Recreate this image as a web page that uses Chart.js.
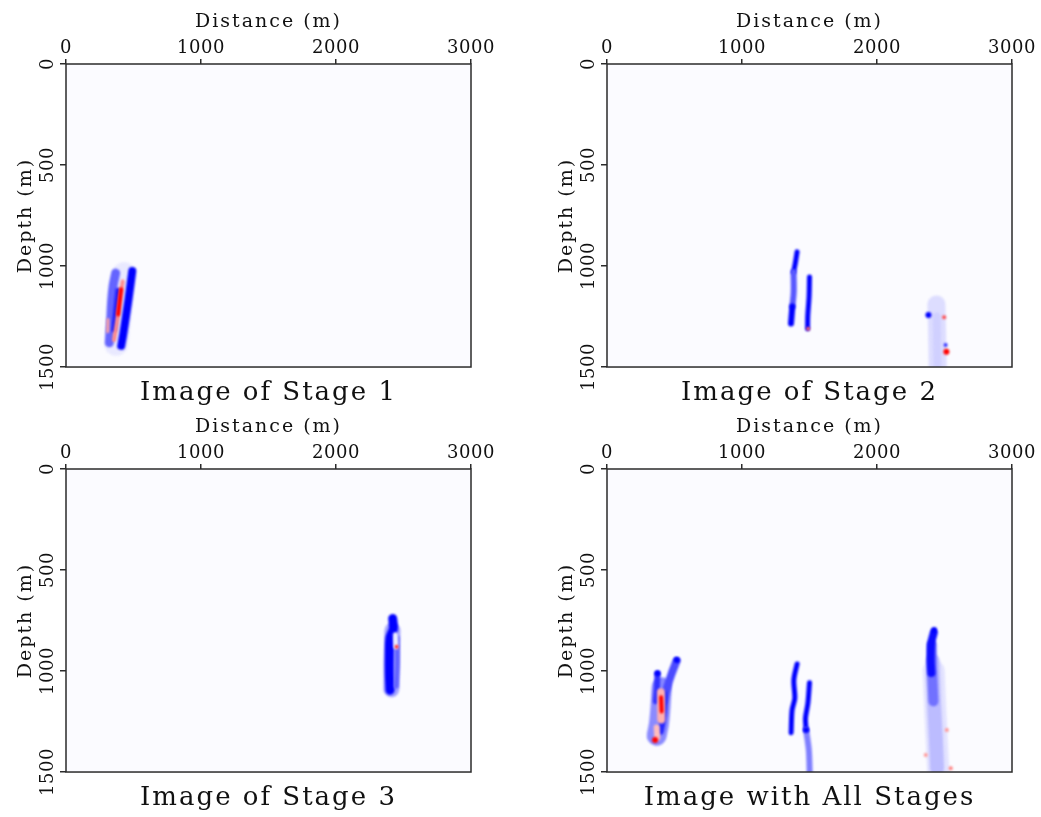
<!DOCTYPE html>
<html>
<head>
<meta charset="utf-8">
<script src="https://cdn.jsdelivr.net/npm/chart.js@4.4.1/dist/chart.umd.min.js"></script>
<style>
  body { margin: 0; background: #fff; }
  #wrap { position: relative; width: 1041px; height: 817px; }
  canvas { position: absolute; }
</style>
</head>
<body>
<div id="wrap">
  <canvas id="stage1" width="500" height="405" style="left:0;top:0"></canvas>
  <canvas id="stage2" width="500" height="405" style="left:541px;top:0"></canvas>
  <canvas id="stage3" width="500" height="405" style="left:0;top:405px"></canvas>
  <canvas id="stageAll" width="500" height="405" style="left:541px;top:405px"></canvas>
</div>
<script>
// axes
const distanceTicks = [0, 1000, 2000, 3000];
const depthTicks = [0, 500, 1000, 1500];

// traces are [distance m, depth m]; amplitude < 0 is blue, > 0 is red
const stage1Traces = [
  [[432, 1040], [405, 1200], [372, 1385]],
  [[368, 1035], [350, 1095], [338, 1175], [330, 1285], [321, 1380]],
  [[384, 1120], [372, 1200], [355, 1317]],
  [[420, 1076], [408, 1130], [380, 1267], [356, 1366]],
  [[408, 1115], [386, 1240]],
  [[491, 1025], [462, 1168], [425, 1333], [409, 1395]],
  [[311, 1265], [309, 1325]]
];
const stage1Amp = [-0.07, -0.6, -0.9, 0.45, 1, -1, 0.35];

const stage2Traces = [
  [[1408, 930], [1395, 985], [1382, 1030]],
  [[1382, 1030], [1383, 1128], [1373, 1200]],
  [[1373, 1200], [1363, 1285]],
  [[1500, 1055], [1497, 1150], [1487, 1250], [1486, 1310]],
  [[2440, 1190], [2445, 1320], [2450, 1520]],
  [[2442, 1250], [2446, 1400], [2448, 1520]]
];
const stage2Amp = [-1, -0.65, -1, -1, -0.12, -0.17];
const stage2Spots = [[2381, 1243, -1], [2497, 1254, 0.7], [2508, 1391, -0.8], [2514, 1424, 1], [1490, 1310, 0.6]];

const stage3Traces = [
  [[2418, 800], [2412, 950], [2410, 1090]],
  [[2420, 740], [2425, 790], [2400, 835], [2395, 920], [2395, 1010], [2400, 1095]],
  [[2452, 835], [2454, 960], [2446, 1075]],
  [[2440, 820], [2444, 880]]
];
const stage3Amp = [-0.35, -1, -0.6, -0.05];
const stage3Spots = [[2449, 880, 0.8]];

const stageAllTraces = [
  // cluster near 400 m
  [[405, 1080], [396, 1180], [385, 1260], [368, 1320]],
  [[374, 1015], [370, 1080], [362, 1150]],
  [[515, 950], [480, 1011], [446, 1080], [420, 1150]],
  [[422, 1110], [424, 1180], [410, 1260], [398, 1300]],
  [[400, 1105], [402, 1240]],
  [[401, 1130], [405, 1200]],
  [[368, 1280], [372, 1330]],
  // two faults near 1400-1500 m
  [[1408, 965], [1384, 1044], [1391, 1135], [1371, 1193], [1364, 1305]],
  [[1500, 1058], [1488, 1160], [1470, 1234], [1475, 1292]],
  [[1475, 1292], [1495, 1391], [1502, 1520]],
  // event near 2400 m
  [[2420, 1000], [2432, 1200], [2445, 1380], [2455, 1520]],
  [[2412, 950], [2422, 1150], [2435, 1320], [2445, 1480]],
  [[2405, 870], [2408, 1000], [2418, 1150]],
  [[2420, 812], [2402, 860], [2398, 950], [2403, 1010]]
];
const stageAllAmp = [-0.45, -0.8, -0.7, -0.85, 0.3, 1, 0.25, -1, -1, -0.5, -0.1, -0.25, -0.55, -0.95];
const stageAllSpots = [[374, 1011, -1], [517, 946, -1], [356, 1342, 1], [2423, 797, -1],
  [2517, 1292, 0.4], [2361, 1416, 0.4], [2546, 1481, 0.5], [1475, 1292, -1]];

// stroke widths in px, one per trace
const stage1Width = [24, 9, 5, 4, 4, 8, 3];
const stage2Width = [5, 6, 6, 5, 18, 8];
const stage3Width = [16, 9, 5, 5];
const stageAllWidth = [20, 6, 8, 6, 8, 4, 6, 5, 5, 6, 22, 14, 10, 8];

Chart.defaults.font.family = 'DejaVu Serif';
Chart.defaults.color = '#111';

function ampColor(a) {
  const t = Math.min(1, Math.abs(a));
  const f = Math.round(251 * (1 - t));
  return a < 0 ? `rgb(${f},${f},255)` : `rgb(255,${f},${f})`;
}

// titles are drawn before the datasets, tick labels (z: 1) after them
const panelLook = {
  id: 'panelLook',
  beforeUpdate(chart) { chart.ctx.letterSpacing = '0.5px'; },
  beforeDraw(chart) { chart.ctx.letterSpacing = '2px'; },
  beforeDatasetsDraw(chart) {
    const { ctx, chartArea: a } = chart;
    ctx.save();
    ctx.fillStyle = '#fbfbff';
    ctx.fillRect(a.left, a.top, a.right - a.left, a.bottom - a.top);
    ctx.filter = 'blur(1px)';
  },
  afterDatasetsDraw(chart) {
    const { ctx, chartArea: a } = chart;
    ctx.restore();
    ctx.save();
    ctx.strokeStyle = '#2b2b2b';
    ctx.lineWidth = 1.5;
    ctx.strokeRect(a.left, a.top, a.right - a.left, a.bottom - a.top);
    ctx.restore();
    ctx.letterSpacing = '0.5px';
  }
};

function makePanel(id, title, traces, amps, widths, spots) {
  const datasets = traces.map((pts, i) => ({
    data: pts.map(p => ({ x: p[0], y: p[1] })),
    showLine: true,
    borderColor: ampColor(amps[i]),
    borderWidth: widths[i],
    borderCapStyle: 'round',
    borderJoinStyle: 'round',
    tension: 0.3,
    pointRadius: 0,
    clip: 0
  }));
  if (spots) {
    datasets.push({
      data: spots.map(s => ({ x: s[0], y: s[1] })),
      pointRadius: spots.map(s => Math.abs(s[2]) > 0.9 ? 3 : 2),
      pointBackgroundColor: spots.map(s => ampColor(s[2])),
      pointBorderWidth: 0,
      clip: 0
    });
  }
  datasets.forEach((d, i) => { d.order = -i; });

  new Chart(document.getElementById(id), {
    type: 'scatter',
    data: { datasets },
    options: {
      responsive: false,
      animation: false,
      layout: { padding: { left: 0, top: 0, right: 29, bottom: 0.1 } },
      plugins: {
        legend: { display: false },
        tooltip: { enabled: false },
        title: {
          display: true,
          text: title,
          position: 'bottom',
          fullSize: false,
          color: '#111',
          font: { size: 26, weight: 'normal', lineHeight: 0.88 },
          padding: { top: 15, bottom: 0 }
        }
      },
      scales: {
        x: {
          type: 'linear',
          position: 'top',
          min: distanceTicks[0],
          max: distanceTicks[distanceTicks.length - 1],
          afterBuildTicks: s => { s.ticks = distanceTicks.map(v => ({ value: v })); },
          ticks: { z: 1, font: { size: 18 }, padding: 0, maxRotation: 0, color: '#111', callback: v => String(v) },
          grid: { drawOnChartArea: false, tickLength: 5, color: '#2b2b2b', lineWidth: 1.5 },
          border: { display: false },
          title: { display: true, text: 'Distance (m)', font: { size: 19 }, padding: { top: 11, bottom: 0 }, color: '#111' },
          afterFit: s => { s.height = 64; }
        },
        y: {
          type: 'linear',
          reverse: true,
          min: depthTicks[0],
          max: depthTicks[depthTicks.length - 1],
          afterBuildTicks: s => { s.ticks = depthTicks.map(v => ({ value: v })); },
          ticks: { z: 1, font: { size: 18 }, minRotation: 90, maxRotation: 90, crossAlign: 'center', padding: -12, color: '#111', callback: v => String(v) },
          grid: { drawOnChartArea: false, tickLength: 6, color: '#2b2b2b', lineWidth: 1.5 },
          border: { display: false },
          title: { display: true, text: 'Depth (m)', font: { size: 19 }, padding: { top: 15, bottom: 0 }, color: '#111' },
          afterFit: s => { s.width = 66; }
        }
      }
    },
    plugins: [panelLook]
  });
}

makePanel('stage1', 'Image of Stage 1', stage1Traces, stage1Amp, stage1Width);
makePanel('stage2', 'Image of Stage 2', stage2Traces, stage2Amp, stage2Width, stage2Spots);
makePanel('stage3', 'Image of Stage 3', stage3Traces, stage3Amp, stage3Width, stage3Spots);
makePanel('stageAll', 'Image with All Stages', stageAllTraces, stageAllAmp, stageAllWidth, stageAllSpots);
</script>
</body>
</html>
